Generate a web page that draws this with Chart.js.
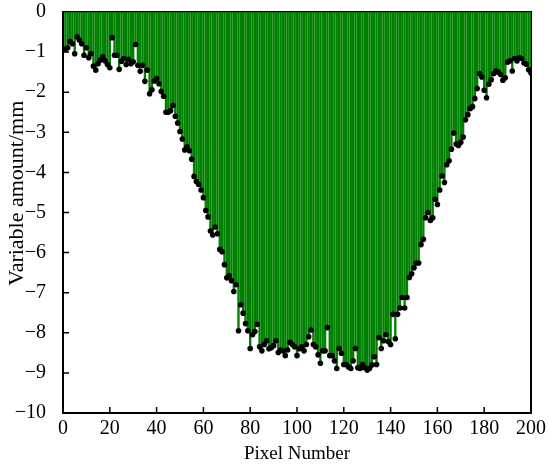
<!DOCTYPE html>
<html>
<head>
<meta charset="utf-8">
<script src="https://cdn.jsdelivr.net/npm/chart.js@4.4.1/dist/chart.umd.min.js"></script>
<style>
  html, body { margin: 0; padding: 0; background: #fff; }
  #wrap { width: 550px; height: 464px; }
</style>
</head>
<body>
<div id="wrap"><canvas id="stemChart"></canvas></div>
<script>
// values, one per pixel (1..200)
const variableAmount = [
  -0.93, -0.89, -0.74, -0.79, -1.04, -0.62, -0.70, -0.79, -1.08, -0.89,
  -1.14, -1.04, -1.35, -1.45, -1.29, -1.20, -1.12, -1.22, -1.31, -1.39,
  -0.64, -1.08, -1.08, -1.43, -1.23, -1.16, -1.31, -1.18, -1.29, -1.24,
  -0.81, -1.33, -1.48, -1.33, -1.73, -1.45, -2.04, -1.94, -1.72, -1.66,
  -1.79, -1.98, -2.10, -2.50, -2.50, -2.46, -2.33, -2.60, -2.77, -2.98,
  -3.17, -3.44, -3.36, -3.46, -3.67, -4.10, -4.23, -4.30, -4.44, -4.63,
  -4.95, -5.11, -5.46, -5.56, -5.36, -5.53, -5.92, -5.98, -6.30, -6.63,
  -6.57, -6.70, -6.97, -6.80, -7.95, -7.30, -7.51, -7.77, -7.95, -8.39,
  -8.05, -7.97, -7.79, -8.35, -8.45, -8.29, -8.20, -8.40, -8.37, -8.32,
  -8.20, -8.49, -8.43, -8.45, -8.57, -8.43, -8.24, -8.29, -8.35, -8.57,
  -8.40, -8.35, -8.45, -8.29, -8.10, -7.93, -8.29, -8.35, -8.55, -8.76,
  -8.45, -8.45, -7.87, -8.57, -8.57, -8.70, -8.89, -8.39, -8.51, -8.79,
  -8.79, -8.85, -8.89, -8.70, -8.39, -8.87, -8.89, -8.79, -8.87, -8.93,
  -8.89, -8.80, -8.60, -8.79, -8.12, -8.39, -8.20, -8.05, -8.22, -8.29,
  -7.54, -8.15, -7.54, -7.38, -7.12, -7.38, -7.12, -6.62, -6.53, -6.38,
  -6.26, -6.26, -5.80, -5.67, -5.13, -5.00, -5.20, -5.13, -4.67, -4.80,
  -4.44, -4.09, -4.25, -3.81, -3.71, -3.42, -3.02, -3.29, -3.33, -3.25,
  -3.12, -2.69, -2.56, -2.41, -2.36, -2.16, -1.91, -1.54, -1.62, -1.95,
  -2.14, -1.80, -1.69, -1.54, -1.47, -1.50, -1.56, -1.70, -1.64, -1.25,
  -1.22, -1.47, -1.16, -1.22, -1.14, -1.16, -1.27, -1.30, -1.44, -1.52
];
const pixelNumbers = variableAmount.map((v, i) => i + 1);
const xTickValues = [0, 20, 40, 60, 80, 100, 120, 140, 160, 180, 200];
const yTickValues = [0, -1, -2, -3, -4, -5, -6, -7, -8, -9, -10];

const points = pixelNumbers.map((x, i) => ({ x: x, y: variableAmount[i] }));
const serif = 'Liberation Serif, Times New Roman, serif';

// box round the plot plus short inward tick marks
const frameTicks = {
  id: 'frameTicks',
  beforeDatasetsDraw(chart) {
    const { ctx, chartArea: a, scales } = chart;
    ctx.save();
    ctx.strokeStyle = '#000';
    ctx.lineWidth = 2;
    ctx.strokeRect(a.left, a.top, a.right - a.left, a.bottom - a.top);
    ctx.lineWidth = 1.5;
    ctx.beginPath();
    scales.x.ticks.forEach(t => {
      const px = scales.x.getPixelForValue(t.value);
      ctx.moveTo(px, a.bottom);
      ctx.lineTo(px, a.bottom - 6);
    });
    scales.y.ticks.forEach(t => {
      const py = scales.y.getPixelForValue(t.value);
      ctx.moveTo(a.left, py);
      ctx.lineTo(a.left + 6, py);
    });
    ctx.stroke();
    ctx.restore();
  }
};

new Chart(document.getElementById('stemChart'), {
  type: 'bar',
  data: {
    datasets: [{
      type: 'scatter',
      data: points,
      pointRadius: 2.8,
      pointBackgroundColor: '#000',
      pointBorderWidth: 0,
      order: 1
    }, {
      type: 'bar',
      data: points,
      backgroundColor: '#008000',
      borderWidth: 0,
      barThickness: 1.7,
      order: 2
    }]
  },
  options: {
    responsive: true,
    maintainAspectRatio: false,
    animation: false,
    layout: { padding: { top: 12, right: 19, left: 0, bottom: 0 } },
    plugins: { legend: { display: false }, tooltip: { enabled: false } },
    scales: {
      x: {
        type: 'linear',
        min: 0,
        max: 200,
        offset: false,
        grid: { display: false },
        border: { display: false },
        afterBuildTicks: scale => { scale.ticks = xTickValues.map(v => ({ value: v })); },
        afterFit: scale => {
          scale.height = 51;
          scale.paddingLeft = 0;
          scale.paddingRight = 0;
        },
        ticks: {
          color: '#000',
          font: { family: serif, size: 20, lineHeight: 1 },
          padding: -2,
          maxRotation: 0,
          autoSkip: false
        },
        title: {
          display: true,
          text: 'Pixel Number',
          color: '#000',
          font: { family: serif, size: 19 },
          padding: { top: 0, bottom: -1 }
        }
      },
      y: {
        min: -10,
        max: 0,
        grid: { display: false },
        border: { display: false },
        afterBuildTicks: scale => { scale.ticks = yTickValues.map(v => ({ value: v })); },
        afterFit: scale => {
          scale.width = 63;
          scale.paddingTop = 0;
          scale.paddingBottom = 0;
        },
        ticks: {
          color: '#000',
          font: { family: serif, size: 20 },
          padding: 9,
          autoSkip: false,
          callback: v => v === 0 ? '0' : '\u2212' + Math.abs(v)
        },
        title: {
          display: true,
          // leading spaces lift the label as in the original figure
          text: '       Variable amount/mm',
          color: '#000',
          font: { family: serif, size: 22 },
          padding: { top: 4, bottom: 0 }
        }
      }
    }
  },
  plugins: [frameTicks]
});
</script>
</body>
</html>
